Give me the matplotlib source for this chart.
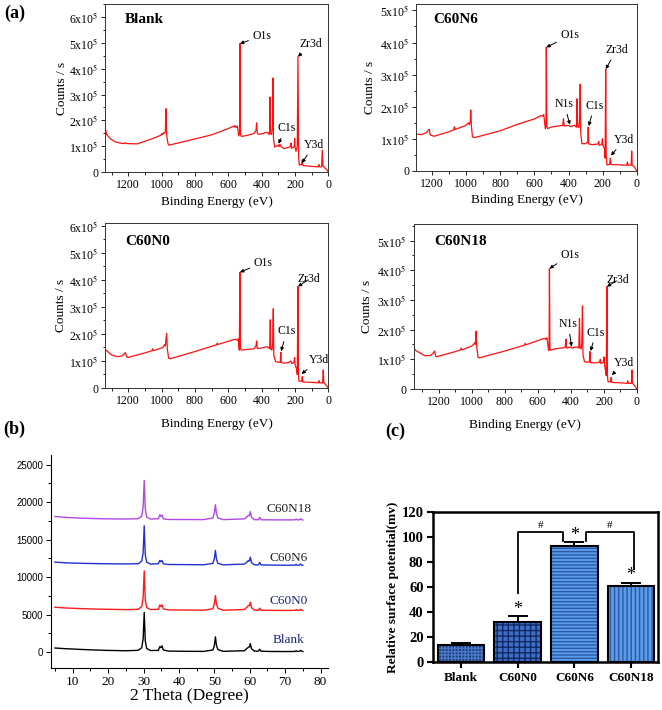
import matplotlib
matplotlib.use("Agg")
import matplotlib.pyplot as plt
from matplotlib.ticker import MultipleLocator, FuncFormatter

plt.rcParams["font.family"] = "serif"
plt.rcParams["font.serif"] = ["Liberation Serif", "DejaVu Serif"]
plt.rcParams["mathtext.fontset"] = "stix"

# ---- (a) XPS survey spectra: binding energy (eV) and counts (x1e5) ----
blank_e = [1338, 1336, 1330, 1306, 1280, 1250, 1226, 1218, 1210, 1146, 1060, 1006, 1000, 994, 990,
           985, 978, 974, 970, 962, 956, 800, 700, 600, 572, 566, 560, 552, 545, 538, 532, 530,
           527, 522, 500, 446, 434, 430, 426, 420, 400, 366, 355, 352, 350, 348, 340, 335, 332,
           329, 322, 310, 300, 296, 290, 286, 266, 240, 228, 224, 220, 210, 204, 202, 199, 194,
           186, 182, 178, 174, 160, 156, 152, 100, 60, 56, 52, 40, 36, 32, 20, 10, 2]
blank_c = [1.55, 1.62, 1.45, 1.28, 1.17, 1.12, 1.10, 1.13, 1.10, 1.09, 1.28, 1.42, 1.48, 1.45, 1.52,
           1.50, 1.55, 2.45, 1.42, 1.10, 1.04, 1.28, 1.44, 1.68, 1.77, 1.74, 1.80, 1.72, 1.78, 1.40,
           1.50, 4.97, 1.45, 1.38, 1.40, 1.49, 1.60, 1.90, 1.50, 1.46, 1.48, 1.54, 1.45, 1.60, 2.90,
           1.50, 1.45, 1.80, 3.64, 1.30, 0.97, 1.00, 1.05, 0.98, 1.08, 1.00, 0.91, 0.95, 0.98, 1.12,
           0.92, 0.95, 1.00, 1.30, 0.95, 0.80, 1.00, 4.46, 0.60, 0.27, 0.30, 0.46, 0.25, 0.22, 0.20,
           0.30, 0.20, 0.20, 0.85, 0.25, 0.15, 0.10, 0.02]

n6_e = [1292, 1260, 1230, 1215, 1208, 1186, 1100, 1072, 1068, 1064, 1000, 985, 980, 975, 972, 968,
        962, 949, 800, 700, 600, 560, 553, 545, 536, 532, 530, 527, 522, 500, 446, 434, 430, 426,
        400, 390, 366, 354, 350, 347, 340, 335, 332, 329, 322, 300, 288, 285, 282, 260, 228, 224,
        220, 206, 202, 199, 190, 186, 183, 180, 176, 160, 156, 152, 100, 60, 56, 52, 34, 31, 28,
        15, 2]
n6_c = [1.15, 1.13, 1.20, 1.30, 1.12, 1.08, 1.22, 1.28, 1.38, 1.29, 1.42, 1.50, 1.44, 1.52, 1.90,
        1.40, 1.06, 1.04, 1.25, 1.45, 1.62, 1.73, 1.70, 1.76, 1.32, 1.40, 3.85, 1.40, 1.32, 1.37,
        1.41, 1.42, 1.63, 1.40, 1.42, 1.38, 1.42, 1.36, 2.25, 1.40, 1.35, 1.60, 2.70, 1.20, 0.85,
        0.85, 0.90, 1.36, 0.84, 0.82, 0.84, 0.92, 0.80, 0.82, 1.00, 0.80, 0.70, 0.40, 3.17, 0.50,
        0.19, 0.20, 0.40, 0.20, 0.19, 0.18, 0.28, 0.18, 0.18, 0.62, 0.18, 0.12, 0.01]

n0_e = [1340, 1336, 1300, 1266, 1240, 1226, 1218, 1210, 1202, 1100, 1058, 1055, 1050, 1000, 990,
        984, 978, 970, 966, 958, 950, 800, 670, 666, 662, 556, 548, 540, 534, 530, 527, 522, 500,
        446, 434, 430, 426, 400, 366, 352, 348, 345, 338, 334, 330, 327, 316, 300, 288, 285, 282,
        266, 240, 224, 220, 206, 202, 199, 190, 186, 182, 179, 176, 160, 156, 152, 100, 60, 56,
        52, 34, 30, 27, 15, 2]
n0_c = [1.42, 1.41, 1.22, 1.16, 1.18, 1.25, 1.31, 1.15, 1.13, 1.30, 1.38, 1.45, 1.38, 1.48, 1.52,
        1.60, 1.55, 2.02, 1.45, 1.10, 1.08, 1.35, 1.60, 1.66, 1.61, 1.81, 1.76, 1.82, 1.40, 4.28,
        1.45, 1.40, 1.42, 1.45, 1.55, 1.74, 1.46, 1.48, 1.53, 1.45, 2.52, 1.45, 1.40, 1.60, 2.93,
        1.20, 0.98, 0.95, 0.96, 1.32, 0.94, 0.92, 0.94, 1.00, 0.90, 0.95, 1.12, 0.85, 0.70, 0.50,
        3.75, 0.50, 0.26, 0.25, 0.42, 0.22, 0.21, 0.19, 0.28, 0.19, 0.19, 0.67, 0.20, 0.12, 0.01]

n18_e = [1350, 1340, 1300, 1283, 1250, 1232, 1226, 1218, 1212, 1100, 1068, 1065, 1060, 1000, 990,
         982, 978, 974, 970, 962, 955, 800, 680, 677, 672, 560, 552, 545, 535, 532, 530, 527, 522,
         500, 444, 434, 430, 426, 400, 394, 366, 352, 348, 345, 338, 334, 330, 327, 318, 300, 288,
         285, 282, 260, 226, 222, 218, 204, 200, 196, 190, 186, 182, 179, 176, 160, 156, 152, 100,
         60, 56, 52, 34, 30, 27, 15, 2]
n18_c = [1.37, 1.30, 1.17, 1.12, 1.13, 1.22, 1.28, 1.10, 1.09, 1.26, 1.32, 1.38, 1.32, 1.45, 1.50,
         1.56, 1.50, 1.95, 1.40, 1.06, 1.05, 1.28, 1.48, 1.54, 1.49, 1.71, 1.67, 1.73, 1.30, 1.36,
         4.06, 1.35, 1.31, 1.35, 1.39, 1.42, 1.68, 1.38, 1.42, 1.38, 1.42, 1.38, 2.38, 1.40, 1.35,
         1.55, 2.80, 1.15, 0.92, 0.90, 0.92, 1.26, 0.89, 0.88, 0.90, 1.00, 0.86, 0.90, 1.08, 0.80,
         0.60, 0.45, 3.45, 0.50, 0.25, 0.24, 0.39, 0.22, 0.21, 0.19, 0.28, 0.19, 0.19, 0.64, 0.20,
         0.12, 0.01]

# ---- (b) XRD patterns ----
two_theta = [5, 8, 12, 16, 20, 25, 28.5, 29.5, 29.9, 30.2, 30.5, 30.9, 32, 34.2, 34.6, 34.9, 35.2,
             35.6, 37, 42, 47, 49.6, 50.0, 50.3, 50.6, 51.0, 52.5, 58.5, 59.3, 59.6, 59.9, 60.15,
             60.5, 61.3, 62.4, 62.8, 63.2, 66, 70, 72.8, 73.1, 73.4, 74.0, 74.4, 74.7, 75]
xrd_blank = [560, 470, 380, 300, 240, 200, 250, 600, 1800, 5300, 1500, 500, 220, 250, 750, 600, 850,
             300, 150, 120, 110, 300, 900, 2050, 900, 350, 120, 200, 550, 650, 700, 1150, 450, 150,
             130, 400, 130, 100, 90, 100, 200, 100, 120, 250, 130, 90]
xrd_n0 = [6000, 5900, 5820, 5760, 5720, 5680, 5720, 6100, 7300, 10850, 7000, 5950, 5680, 5720, 6300,
          6100, 6320, 5780, 5640, 5620, 5600, 5800, 6500, 7560, 6400, 5850, 5600, 5700, 6050, 6230,
          6200, 6670, 5950, 5620, 5600, 5870, 5600, 5580, 5570, 5580, 5700, 5580, 5600, 5720, 5580,
          5560]
xrd_n6 = [12010, 11920, 11860, 11820, 11790, 11770, 11800, 12150, 13300, 16860, 13000, 12000,
          11750, 11800, 12250, 12050, 12230, 11780, 11700, 11680, 11660, 11850, 12500, 13570, 12400,
          11850, 11650, 11750, 12050, 12230, 12150, 12680, 11950, 11650, 11630, 11970, 11640, 11620,
          11600, 11610, 11720, 11600, 11620, 11760, 11600, 11580]
xrd_n18 = [18100, 17980, 17880, 17820, 17780, 17760, 17800, 18150, 19400, 22910, 19100, 18000,
           17750, 17800, 18330, 18100, 18300, 17780, 17700, 17690, 17680, 17900, 18600, 19660, 18500,
           17900, 17680, 17780, 18100, 18250, 18200, 18730, 17980, 17680, 17660, 17980, 17660, 17650,
           17640, 17650, 17760, 17640, 17660, 17800, 17650, 17620]

# ---- (c) relative surface potential ----
groups = ["Blank", "C60N0", "C60N6", "C60N18"]
potential = [13.5, 32, 92.5, 61]
potential_err = [1.5, 5, 3.5, 2]

fig = plt.figure(figsize=(6.62, 7.10), dpi=100)


def sci_fmt(v, pos):
    if abs(v) < 1:
        return "0"
    return r"%dx10$^{5}$" % round(v / 1e5)


def xps_panel(rect, energy, counts, xmax, ymax, name, name_pos, ylab_x, xlab_y, peaks):
    ax = fig.add_axes(rect)
    ax.plot(energy, [c * 1e5 for c in counts], color="#ff1010", lw=0.9)
    ax.set_xlim(xmax, 0)
    ax.set_ylim(0, ymax)
    ax.xaxis.set_major_locator(MultipleLocator(200))
    ax.xaxis.set_minor_locator(MultipleLocator(100))
    ax.yaxis.set_major_locator(MultipleLocator(1e5))
    ax.yaxis.set_minor_locator(MultipleLocator(0.5e5))
    ax.yaxis.set_major_formatter(FuncFormatter(sci_fmt))
    ax.tick_params(which="both", direction="out", labelsize=8.5, width=0.6, pad=2)
    ax.tick_params(which="major", length=3)
    ax.tick_params(which="minor", length=1.8)
    for s in ax.spines.values():
        s.set_linewidth(0.7)
        s.set_color("#333333")
    ax.set_ylabel("Counts / s", fontsize=9.5)
    ax.yaxis.set_label_coords(ylab_x, 0.5)
    ax.set_xlabel("Binding Energy (eV)", fontsize=9.5)
    ax.xaxis.set_label_coords(0.5, xlab_y)
    ax.text(name_pos[0], name_pos[1], name, transform=ax.transAxes, fontsize=11,
            fontweight="bold", va="center", ha="left")
    for label, tip, txt in peaks:
        ax.annotate(label, xy=(tip[0], tip[1] * 1e5), xytext=(txt[0], txt[1] * 1e5),
                    ha="center", va="center", fontsize=8.5,
                    arrowprops=dict(arrowstyle="-|>", color="k", lw=0.7, mutation_scale=5,
                                    shrinkA=1, shrinkB=0))
    return ax


xps_panel([0.1586, 0.7577, 0.3373, 0.2366], blank_e, blank_c, 1340, 6.5e5, "Blank", (0.09, 0.91),
          -0.166, -0.14,
          [("O1s", (530, 4.97), (398, 5.27)), ("Zr3d", (182, 4.46), (104, 4.96)),
           ("C1s", (300, 1.10), (250, 1.69)), ("Y3d", (158, 0.35), (86, 1.04))])
xps_panel([0.6284, 0.7592, 0.3338, 0.2352], n6_e, n6_c, 1292, 5.2e5, "C60N6", (0.076, 0.91),
          -0.181, -0.14,
          [("O1s", (530, 3.85), (392, 4.22)), ("Zr3d", (183, 3.17), (119, 3.77)),
           ("N1s", (392, 1.44), (425, 2.08)), ("C1s", (282, 1.40), (250, 2.03)),
           ("Y3d", (152, 0.48), (74, 0.97))])
xps_panel([0.1586, 0.4535, 0.3373, 0.2324], n0_e, n0_c, 1340, 6.1e5, "C60N0", (0.09, 0.887),
          -0.17, -0.18,
          [("O1s", (530, 4.28), (390, 4.64)), ("Zr3d", (182, 3.75), (114, 4.03)),
           ("C1s", (283, 1.36), (250, 2.09)), ("Y3d", (160, 0.52), (56, 1.04))])
xps_panel([0.6249, 0.4521, 0.3373, 0.2324], n18_e, n18_c, 1352, 5.56e5, "C60N18", (0.092, 0.893),
          -0.184, -0.18,
          [("O1s", (530, 4.06), (404, 4.51)), ("Zr3d", (182, 3.45), (117, 3.67)),
           ("N1s", (396, 1.43), (416, 2.19)), ("C1s", (281, 1.28), (248, 1.90)),
           ("Y3d", (152, 0.47), (77, 0.89))])

# ---- (b) ----
axb = fig.add_axes([0.0766, 0.0592, 0.4184, 0.30])
xrd = [(xrd_blank, "black", "Blank", "#1a237e", 1640),
       (xrd_n0, "#ff1a1a", "C60N0", "#1a237e", 6880),
       (xrd_n6, "#2230d0", "C60N6", "#222222", 12573),
       (xrd_n18, "#b048e4", "C60N18", "#222222", 19107)]
for vals, col, lab, tcol, ty in xrd:
    axb.plot(two_theta, vals, color=col, lw=1.0)
    axb.text(71.0, ty, lab, color=tcol, fontsize=9.5, ha="center", va="center")
axb.set_xlim(3.8, 82)
axb.set_ylim(-2100, 26300)
axb.spines["top"].set_visible(False)
axb.spines["right"].set_visible(False)
for s in ("left", "bottom"):
    axb.spines[s].set_linewidth(0.8)
axb.xaxis.set_major_locator(MultipleLocator(10))
axb.xaxis.set_minor_locator(MultipleLocator(5))
axb.yaxis.set_major_locator(MultipleLocator(5000))
axb.yaxis.set_minor_locator(MultipleLocator(2500))
axb.tick_params(which="both", direction="out", width=0.7)
axb.tick_params(which="major", length=3.5)
axb.tick_params(which="minor", length=2)
axb.tick_params(axis="x", labelsize=9.5, pad=2)
axb.tick_params(axis="y", labelsize=7, pad=2)
for t in axb.get_yticklabels():
    t.set_fontfamily(["Liberation Sans", "DejaVu Sans"])
axb.set_xlabel("2 Theta (Degree)", fontsize=12.5, labelpad=0)

# ---- (c) ----
axc = fig.add_axes([0.6545, 0.0672, 0.339, 0.2121])
xpos = list(range(len(groups)))
faces = ["#1f3d7a", "#3d6fc8", "#5b9be8", "#5b9be8"]
hatch_cols = ["#4a78c8", "#0f2a62", "#2a5aa8", "#2a5aa8"]
hatches = ["+++++", "+++", "-----", "||||"]
axc.errorbar(xpos, potential, yerr=[[0] * 4, potential_err], fmt="none", ecolor="k",
             elinewidth=1.4, capsize=7, capthick=1.4, zorder=1)
for i in xpos:
    axc.bar(xpos[i], potential[i], width=0.82, color=faces[i], edgecolor=hatch_cols[i],
            hatch=hatches[i], linewidth=0, zorder=2)
axc.bar(xpos, potential, width=0.82, fill=False, edgecolor="k", linewidth=1.5, zorder=3)
axc.plot([1, 1, 1.8, 1.8], [55, 104, 104, 96.8], color="k", lw=1.3)
axc.plot([2.2, 2.2, 3.05, 3.05], [96.8, 104, 104, 74], color="k", lw=1.3)
axc.text(1.4, 109, "#", ha="center", va="center", fontsize=8)
axc.text(2.62, 109, "#", ha="center", va="center", fontsize=8)
for x, y in [(1, 42), (2, 101), (3, 69.5)]:
    axc.text(x, y, "*", ha="center", va="center", fontsize=13)
axc.set_xlim(-0.49, 3.47)
axc.set_ylim(0, 120)
axc.yaxis.set_major_locator(MultipleLocator(20))
axc.set_xticks(xpos)
axc.set_xticklabels(groups)
for s in axc.spines.values():
    s.set_linewidth(1.8)
axc.tick_params(direction="out", width=1.5, length=4, pad=3)
axc.tick_params(axis="x", labelsize=9.5)
axc.tick_params(axis="y", labelsize=10.5)
for t in axc.get_xticklabels() + axc.get_yticklabels():
    t.set_fontweight("bold")
axc.set_ylabel("Relative surface potential(mv)", fontsize=9.5, fontweight="bold", labelpad=2)

# panel letters
fig.text(15 / 662, 1 - 13 / 710, "(a)", fontsize=13, fontweight="bold", ha="center", va="center")
fig.text(14 / 662, 1 - 429 / 710, "(b)", fontsize=13, fontweight="bold", ha="center", va="center")
fig.text(395 / 662, 1 - 431 / 710, "(c)", fontsize=13, fontweight="bold", ha="center", va="center")

fig.savefig("out.png", dpi=100)
